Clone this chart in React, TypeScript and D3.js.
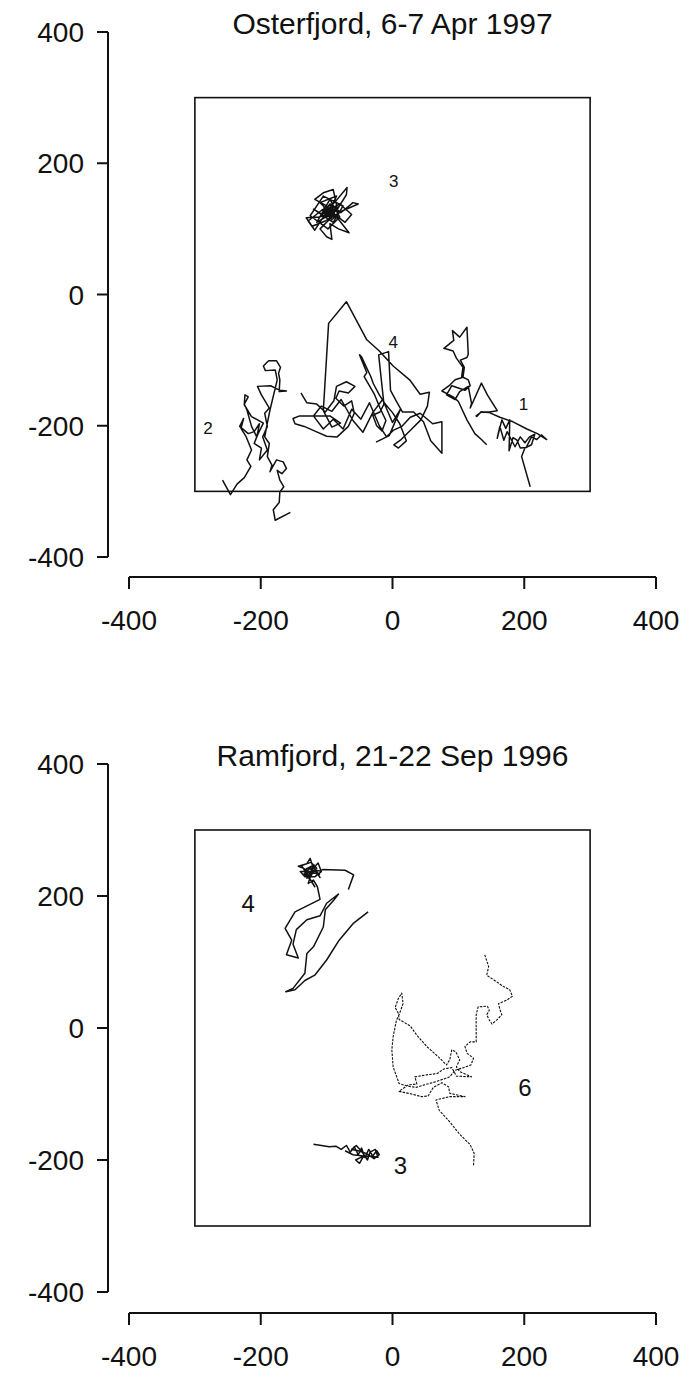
import React from 'react';
import * as d3 from 'd3';

type Pt = [number, number];

// axis ticks (metres)
const TICKS = [-400, -200, 0, 200, 400];
const BOX = 300;

const OST_TITLE = 'Osterfjord, 6-7 Apr 1997';
const RAM_TITLE = 'Ramfjord, 21-22 Sep 1996';

// Osterfjord tracks, x/y in metres
const OST_TRACK_1: Pt[] = [
  [143, -229], [135, -221], [125, -212], [113, -191], [100, -163], [92, -156], [75, -147], [86, -139],
  [95, -130], [107, -126], [109, -111], [103, -100], [113, -96], [115, -91], [113, -50], [102, -65],
  [91, -55], [93, -70], [78, -82], [92, -86], [97, -97], [107, -111], [105, -125], [115, -130],
  [118, -139], [110, -146], [90, -139], [82, -153], [95, -160], [102, -148], [115, -140], [120, -166],
  [118, -173], [135, -135], [144, -153], [159, -177], [147, -179], [135, -179], [127, -185],
  [128, -186], [134, -179], [147, -180], [163, -187], [183, -194], [204, -205], [220, -212], [234, -221],
  [226, -214], [219, -221], [211, -217], [203, -233], [194, -234], [189, -222], [183, -218], [177, -238],
  [178, -191], [172, -204], [166, -191], [159, -219], [163, -201], [169, -222], [174, -209], [186, -232],
  [194, -217], [201, -226], [208, -217], [216, -213], [211, -229], [201, -234], [196, -247], [209, -293],
];

const OST_TRACK_2: Pt[] = [
  [-258, -283], [-246, -305], [-236, -289], [-225, -279], [-215, -262], [-221, -252], [-214, -237],
  [-222, -217], [-230, -204], [-226, -189], [-232, -201], [-219, -212], [-210, -209], [-202, -197],
  [-206, -217], [-214, -201], [-221, -176], [-225, -167], [-219, -156], [-224, -153], [-225, -168],
  [-214, -186], [-196, -196], [-204, -212], [-210, -227], [-199, -234], [-202, -252], [-190, -237],
  [-197, -217], [-190, -201], [-194, -181], [-187, -173], [-199, -153], [-205, -140], [-185, -139],
  [-171, -146], [-161, -147], [-172, -148], [-171, -130], [-173, -120], [-170, -111], [-176, -101],
  [-188, -101], [-196, -109], [-193, -116], [-178, -115], [-175, -130], [-186, -176], [-190, -196],
  [-194, -217], [-187, -227], [-190, -247], [-183, -260], [-186, -270], [-176, -252], [-166, -255],
  [-161, -265], [-168, -273], [-175, -268], [-171, -283], [-165, -293], [-171, -301], [-172, -317],
  [-181, -328], [-178, -344], [-155, -332],
];

const OST_TRACK_3: Pt[] = [
  [-95, 125], [-110, 140], [-85, 150], [-100, 118], [-120, 130], [-90, 110], [-75, 135], [-105, 150],
  [-125, 120], [-98, 100], [-80, 118], [-95, 145], [-115, 110], [-85, 128], [-70, 152], [-69, 163],
  [-88, 140], [-108, 128], [-128, 112], [-118, 98], [-96, 132], [-78, 125], [-60, 140], [-52, 138],
  [-75, 128], [-92, 118], [-110, 100], [-100, 88], [-92, 84], [-95, 108], [-82, 100], [-66, 94],
  [-80, 112], [-100, 135], [-118, 145], [-105, 155], [-90, 160], [-84, 132], [-96, 122], [-112, 118],
  [-131, 117], [-122, 104], [-102, 112], [-88, 122], [-72, 110], [-62, 122], [-80, 138], [-98, 128],
  [-92, 136], [-86, 116], [-104, 124], [-90, 130], [-94, 126], [-100, 130], [-88, 124], [-96, 116],
  [-84, 136], [-102, 122], [-90, 134], [-98, 120], [-86, 128], [-104, 132], [-92, 114], [-80, 126],
  [-95, 138], [-108, 120], [-88, 118], [-93, 128],
];

const OST_TRACK_4: Pt[] = [
  [-139, -150], [-130, -165], [-115, -167], [-102, -179], [-89, -162], [-85, -140], [-70, -133], [-57, -140],
  [-67, -150], [-81, -147], [-86, -158], [-74, -170], [-62, -162], [-58, -181], [-67, -201], [-84, -217],
  [-100, -216], [-116, -209], [-134, -201], [-148, -197], [-151, -189], [-141, -185], [-95, -185], [-79, -196],
  [-92, -202], [-105, -177], [-97, -44], [-70, -11], [-39, -69], [-20, -86], [1, -109], [26, -130],
  [42, -152], [56, -149], [53, -170], [43, -191], [28, -206], [12, -222], [2, -229], [9, -234],
  [21, -223], [11, -197], [0, -180], [-11, -167], [-20, -153], [-29, -136], [-33, -125], [-47, -95],
  [-50, -92], [-39, -119], [-43, -125], [-27, -153], [-19, -173], [-10, -192], [-16, -208], [-24, -200],
  [-30, -184], [-19, -179], [-13, -167], [-21, -92], [-6, -87], [-3, -146], [6, -163], [15, -179],
  [32, -179], [47, -194], [58, -223], [75, -242], [75, -194], [61, -197], [42, -181], [27, -187],
  [14, -201], [1, -207], [-9, -217], [-20, -200], [-35, -165], [-48, -190], [-62, -175], [-75, -205],
  [-90, -190], [-105, -205], [-120, -185], [-108, -170], [-92, -178], [-78, -160], [-60, -192], [-45, -210],
  [-30, -180], [-15, -160], [0, -195], [12, -175], [-5, -215], [-25, -225],
];

const OST_LABELS: [string, number, number][] = [
  ['1', 199, -166],
  ['2', -280, -204],
  ['3', 2, 173],
  ['4', 1, -72],
];

// Ramfjord tracks, x/y in metres
const RAM_TRACK_3: Pt[] = [
  [-120, -176], [-108, -178], [-96, -180], [-86, -179], [-78, -184], [-70, -178], [-64, -188], [-58, -180],
  [-52, -192], [-47, -182], [-42, -196], [-36, -184], [-30, -194], [-24, -186], [-20, -192], [-28, -198],
  [-40, -190], [-52, -186], [-62, -184], [-55, -178], [-46, -188], [-38, -200], [-34, -188], [-26, -184],
  [-22, -196], [-35, -194], [-48, -196], [-56, -200], [-50, -205], [-44, -194], [-60, -192], [-72, -186],
];

const RAM_TRACK_4: Pt[] = [
  [-37, 176], [-59, 159], [-81, 133], [-100, 103], [-118, 80], [-133, 72], [-148, 58], [-162, 55],
  [-151, 60], [-133, 83], [-130, 113], [-120, 123], [-105, 153], [-102, 179], [-89, 194], [-82, 203],
  [-100, 189], [-110, 170], [-130, 164], [-146, 149], [-151, 127], [-143, 106], [-161, 111], [-153, 133],
  [-163, 151], [-148, 176], [-110, 195], [-114, 214], [-120, 224], [-128, 219], [-123, 234], [-135, 242],
  [-143, 245], [-130, 249], [-125, 257], [-120, 242], [-113, 250], [-108, 237], [-118, 229], [-133, 229],
  [-140, 237], [-128, 237], [-115, 237], [-110, 228], [-121, 246], [-134, 234], [-125, 225], [-118, 214],
  [-138, 246], [-124, 251], [-115, 242], [-130, 227], [-120, 235], [-126, 243], [-111, 233], [-134, 238],
  [-127, 231], [-119, 247], [-131, 241], [-122, 229], [-136, 232], [-117, 239],
  [-110, 238], [-106, 240], [-72, 239], [-59, 232], [-67, 210],
];

const RAM_TRACK_6: Pt[] = [
  [123, -208], [124, -190], [118, -177], [102, -161], [85, -140], [71, -125], [66, -109], [87, -104],
  [110, -104], [87, -99], [85, -89], [75, -83], [62, -90], [54, -103], [44, -104], [29, -100],
  [10, -96], [24, -86], [37, -85], [34, -74], [52, -71], [68, -69], [78, -62], [90, -60],
  [97, -73], [120, -74], [102, -66], [97, -59], [102, -48], [96, -36], [90, -33], [87, -48],
  [82, -56], [70, -44], [52, -28], [37, -11], [27, 3], [10, 13], [9, 22], [4, 31],
  [9, 45], [14, 53], [16, 37], [10, 20], [6, 12], [1, -13], [-1, -33], [1, -59],
  [10, -84], [22, -88], [36, -90], [49, -86], [67, -81], [87, -74], [95, -64], [108, -60],
  [119, -56], [123, -46], [113, -38], [110, -28], [118, -21], [127, -21], [127, 20], [130, 32],
  [144, 33], [147, 27], [143, 20], [147, 12], [151, 6], [158, 12], [166, 20], [163, 28],
  [161, 37], [173, 42], [182, 48], [178, 58], [168, 63], [158, 70], [143, 80], [146, 93],
  [140, 111],
];

const RAM_LABELS: [string, number, number][] = [
  ['4', -219, 189],
  ['6', 201, -90],
  ['3', 12, -208],
];

const FONT = "'Liberation Sans', Arial, Helvetica, sans-serif";

export default function App() {
  const x = d3.scaleLinear().domain([-400, 400]).range([129, 656]);

  const panels = [
    {
      title: OST_TITLE,
      y: d3.scaleLinear().domain([-400, 400]).range([557, 32]),
      axisY: 577,
      titleY: 34,
      tracks: [
        { pts: OST_TRACK_1, dashed: false },
        { pts: OST_TRACK_2, dashed: false },
        { pts: OST_TRACK_3, dashed: false },
        { pts: OST_TRACK_4, dashed: false },
      ],
      labels: OST_LABELS,
      labelSize: 17,
    },
    {
      title: RAM_TITLE,
      y: d3.scaleLinear().domain([-400, 400]).range([1292, 764]),
      axisY: 1313,
      titleY: 766,
      tracks: [
        { pts: RAM_TRACK_3, dashed: false },
        { pts: RAM_TRACK_4, dashed: false },
        { pts: RAM_TRACK_6, dashed: true },
      ],
      labels: RAM_LABELS,
      labelSize: 24,
    },
  ];

  return (
    <svg
      width={686}
      height={1382}
      style={{ position: 'absolute', left: 0, top: 0, background: '#fff' }}
      fontFamily={FONT}
    >
      {panels.map((p, i) => {
        const y = p.y;
        const line = d3.line<Pt>().x(d => x(d[0])).y(d => y(d[1]));
        return (
          <g key={i}>
            <text x={x(0)} y={p.titleY} textAnchor="middle" fontSize={30} fill="#111">
              {p.title}
            </text>

            {/* y axis */}
            <line x1={108} x2={108} y1={y(400)} y2={y(-400)} stroke="#111" strokeWidth={2} />
            {TICKS.map(t => (
              <g key={'y' + t}>
                <line x1={97} x2={108} y1={y(t)} y2={y(t)} stroke="#111" strokeWidth={2} />
                <text x={84} y={y(t)} dy="0.36em" textAnchor="end" fontSize={28} fill="#111">
                  {t}
                </text>
              </g>
            ))}

            {/* x axis */}
            <line x1={x(-400)} x2={x(400)} y1={p.axisY} y2={p.axisY} stroke="#111" strokeWidth={2} />
            {TICKS.map(t => (
              <g key={'x' + t}>
                <line x1={x(t)} x2={x(t)} y1={p.axisY} y2={p.axisY + 12} stroke="#111" strokeWidth={2} />
                <text x={x(t)} y={p.axisY + 53} textAnchor="middle" fontSize={28} fill="#111">
                  {t}
                </text>
              </g>
            ))}

            {/* study area box */}
            <rect
              x={x(-BOX)}
              y={y(BOX)}
              width={x(BOX) - x(-BOX)}
              height={y(-BOX) - y(BOX)}
              fill="none"
              stroke="#111"
              strokeWidth={1.6}
            />

            {p.tracks.map((t, j) => (
              <path
                key={j}
                d={line(t.pts) || ''}
                fill="none"
                stroke="#111"
                strokeWidth={t.dashed ? 1.1 : 1.5}
                strokeDasharray={t.dashed ? '2.5 1.2' : undefined}
                strokeLinejoin="round"
              />
            ))}

            {p.labels.map(([s, lx, ly]) => (
              <text
                key={s}
                x={x(lx)}
                y={y(ly)}
                dy="0.36em"
                textAnchor="middle"
                fontSize={p.labelSize}
                fill="#111"
              >
                {s}
              </text>
            ))}
          </g>
        );
      })}
    </svg>
  );
}
